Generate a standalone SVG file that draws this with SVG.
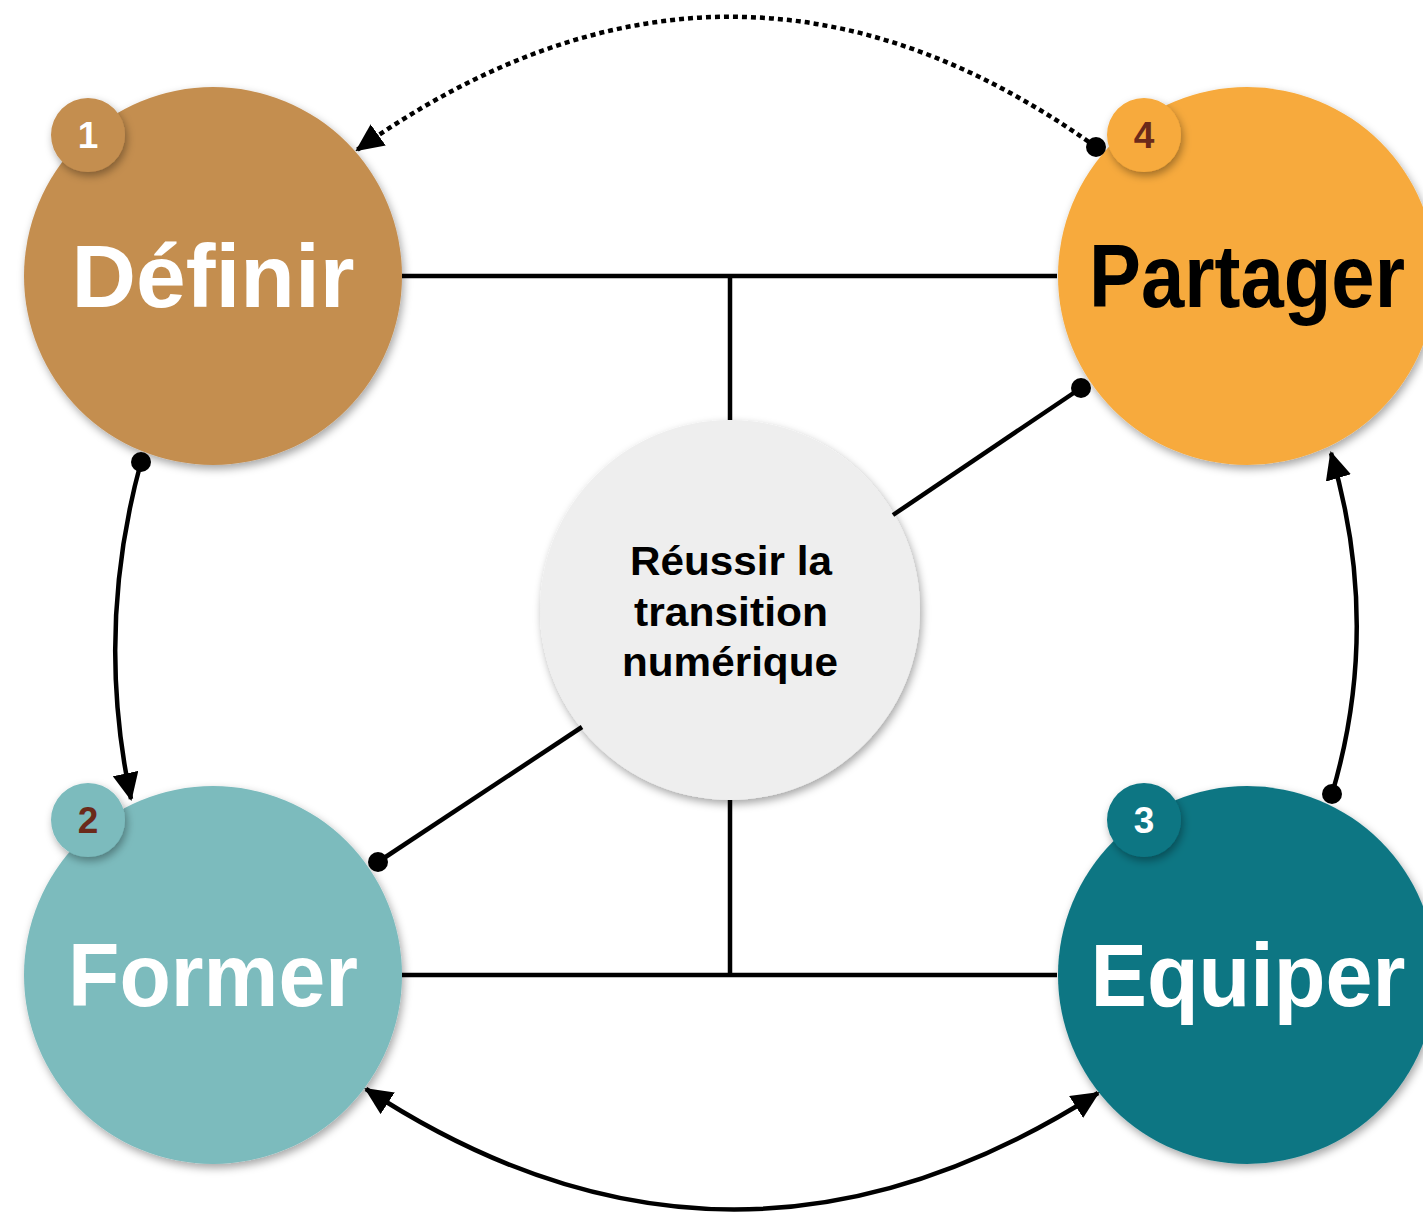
<svg xmlns="http://www.w3.org/2000/svg" width="1423" height="1212" viewBox="0 0 1423 1212">
<style>
.big{font-family:"Liberation Sans",Arial,sans-serif;font-weight:bold;font-size:89px;text-anchor:middle}
.mid{font-family:"Liberation Sans",Arial,sans-serif;font-weight:bold;font-size:41px;text-anchor:middle;fill:#000}
.num{font-family:"Liberation Sans",Arial,sans-serif;font-weight:bold;font-size:37px;text-anchor:middle}
.ln{stroke:#000;stroke-width:4.5;fill:none}
.dot{fill:#000}
</style>
<defs>
<filter id="sh" x="-20%" y="-20%" width="140%" height="140%">
<feDropShadow dx="2" dy="4" stdDeviation="4" flood-color="#000" flood-opacity="0.35"/>
</filter>
<marker id="ah" markerUnits="userSpaceOnUse" viewBox="0 0 28 26" refX="26" refY="13" markerWidth="28" markerHeight="26" orient="auto-start-reverse">
<path d="M0,0 L28,13 L0,26 z" fill="#000"/>
</marker>
</defs>
<g id="definir">
<circle cx="213" cy="276" r="189" fill="#C48E50" filter="url(#sh)"/>
<text class="big" x="213" y="307" fill="#fff" textLength="283" lengthAdjust="spacingAndGlyphs">Définir</text>
<circle cx="88" cy="135" r="37" fill="#C48E50" filter="url(#sh)"/>
<text class="num" x="88" y="148" fill="#fff">1</text>
</g>
<g id="partager">
<circle cx="1247" cy="276" r="189" fill="#F7AA3C" filter="url(#sh)"/>
<text class="big" x="1247" y="307" fill="#000" textLength="316" lengthAdjust="spacingAndGlyphs">Partager</text>
<circle cx="1144" cy="135" r="37" fill="#F7AA3C" filter="url(#sh)"/>
<text class="num" x="1144" y="148" fill="#6B2A1A">4</text>
</g>
<g id="former">
<circle cx="213" cy="975" r="189" fill="#7BBBBD" filter="url(#sh)"/>
<text class="big" x="213" y="1006" fill="#fff" textLength="290" lengthAdjust="spacingAndGlyphs">Former</text>
<circle cx="88" cy="820" r="37" fill="#7BBBBD" filter="url(#sh)"/>
<text class="num" x="88" y="833" fill="#6B2A1A">2</text>
</g>
<g id="equiper">
<circle cx="1247" cy="975" r="189" fill="#0D7683" filter="url(#sh)"/>
<text class="big" x="1248" y="1006" fill="#fff" textLength="315" lengthAdjust="spacingAndGlyphs">Equiper</text>
<circle cx="1144" cy="820" r="37" fill="#0D7683" filter="url(#sh)"/>
<text class="num" x="1144" y="833" fill="#fff">3</text>
</g>
<g id="center">
<circle cx="730" cy="610" r="190" fill="#EEEEEE" filter="url(#sh)"/>
<text class="mid" x="731" y="575" textLength="202" lengthAdjust="spacingAndGlyphs">Réussir la</text>
<text class="mid" x="731" y="626" textLength="194" lengthAdjust="spacingAndGlyphs">transition</text>
<text class="mid" x="730" y="676" textLength="216" lengthAdjust="spacingAndGlyphs">numérique</text>
</g>
<g id="connectors">
<path class="ln" d="M402,276 H1057 M730,276 V420 M402,975 H1057 M730,800 V975"/>
<path class="ln" d="M893,515 L1081,388"/>
<circle class="dot" cx="1081" cy="388" r="10"/>
<path class="ln" d="M582,727 L378,862"/>
<circle class="dot" cx="378" cy="862" r="10"/>
<path class="ln" d="M141,462 Q95,630 131,799" marker-end="url(#ah)"/>
<circle class="dot" cx="141" cy="462" r="10"/>
<path class="ln" d="M1332,794 Q1382,625 1331,453" marker-end="url(#ah)"/>
<circle class="dot" cx="1332" cy="794" r="10"/>
<path class="ln" d="M366,1089 Q730,1328 1098,1093" marker-start="url(#ah)" marker-end="url(#ah)"/>
<path class="ln" d="M1096,147 Q730,-115 357,150" stroke-dasharray="5,4" marker-end="url(#ah)"/>
<circle class="dot" cx="1096" cy="147" r="10"/>
</g>
</svg>
